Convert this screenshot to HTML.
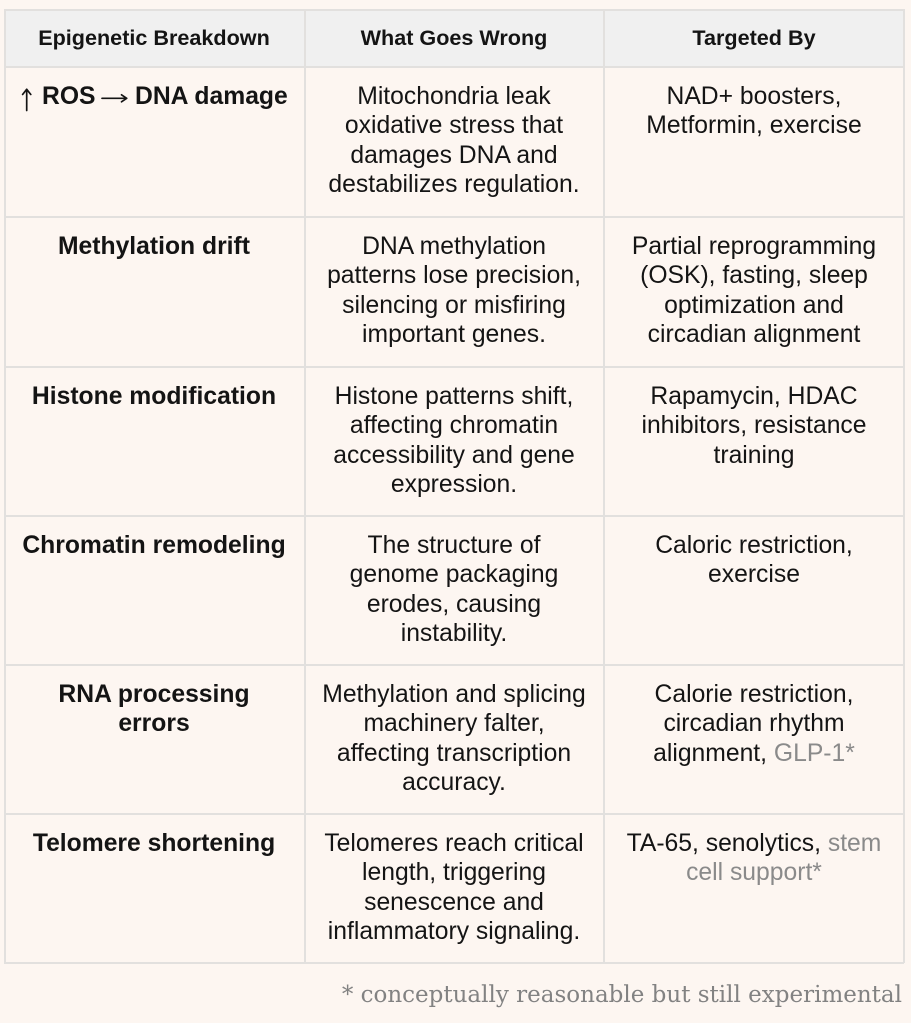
<!DOCTYPE html>
<html><head><meta charset="utf-8"><style>
html,body{margin:0;padding:0;}
body{width:911px;height:1023px;background:#fdf6f1;position:relative;overflow:hidden;font-family:"Liberation Sans",Arial,sans-serif;color:#141414;}
.hl{position:absolute;left:4px;width:900px;height:1.5px;background:#e2e0de;}
.vl{position:absolute;top:9px;height:954px;width:1.5px;background:#e2e0de;}
.hdr{position:absolute;left:4px;top:9px;width:900px;height:57px;background:#f0f0f0;}
.h{position:absolute;top:9px;height:57px;width:300px;line-height:57px;text-align:center;font-weight:bold;font-size:21.6px;white-space:nowrap;}
.c{position:absolute;width:300px;text-align:center;font-size:24.7px;line-height:29.3px;white-space:nowrap;}
.t{position:absolute;font-size:24.7px;line-height:29.3px;white-space:nowrap;font-weight:bold;}
.b{font-weight:bold;}
.g{color:#8a8a8a;}
.foot{position:absolute;right:9px;top:982px;font-family:"DejaVu Serif","Liberation Serif",serif;font-size:23px;line-height:27px;color:#828282;white-space:nowrap;}
</style></head><body>
<div class="hdr"></div>
<div class="hl" style="top:9px"></div>
<div class="hl" style="top:66px"></div>
<div class="hl" style="top:216px"></div>
<div class="hl" style="top:366px"></div>
<div class="hl" style="top:515px"></div>
<div class="hl" style="top:664px"></div>
<div class="hl" style="top:813px"></div>
<div class="hl" style="top:962px"></div>
<div class="vl" style="left:4px"></div>
<div class="vl" style="left:304px"></div>
<div class="vl" style="left:603px"></div>
<div class="vl" style="left:903px"></div>

<div class="h" style="left:4px">Epigenetic Breakdown</div>
<div class="h" style="left:304px">What Goes Wrong</div>
<div class="h" style="left:604px">Targeted By</div>

<svg style="position:absolute;left:0;top:0" width="140" height="120" viewBox="0 0 140 120">
  <g fill="none" stroke="#141414" stroke-width="1.7" stroke-linecap="round" stroke-linejoin="round">
    <path d="M26.7 89.5 V110.5"/>
    <path d="M22.6 94.5 L26.7 89.3 L30.8 94.5"/>
    <path d="M102 98.3 H126.5"/>
    <path d="M121.5 94.8 L126.7 98.3 L121.5 101.8"/>
  </g>
</svg>
<div class="t" style="left:42px;top:82px">ROS</div>
<div class="t" style="left:135px;top:82px">DNA damage</div>
<div class="c" style="left:304px;top:82px">Mitochondria leak<br>oxidative stress that<br>damages DNA and<br>destabilizes regulation.</div>
<div class="c" style="left:604px;top:82px">NAD+ boosters,<br>Metformin, exercise</div>

<div class="c b" style="left:4px;top:232px">Methylation drift</div>
<div class="c" style="left:304px;top:232px">DNA methylation<br>patterns lose precision,<br>silencing or misfiring<br>important genes.</div>
<div class="c" style="left:604px;top:232px">Partial reprogramming<br>(OSK), fasting, sleep<br>optimization and<br>circadian alignment</div>

<div class="c b" style="left:4px;top:382px">Histone modification</div>
<div class="c" style="left:304px;top:382px">Histone patterns shift,<br>affecting chromatin<br>accessibility and gene<br>expression.</div>
<div class="c" style="left:604px;top:382px">Rapamycin, HDAC<br>inhibitors, resistance<br>training</div>

<div class="c b" style="left:4px;top:531px">Chromatin remodeling</div>
<div class="c" style="left:304px;top:531px">The structure of<br>genome packaging<br>erodes, causing<br>instability.</div>
<div class="c" style="left:604px;top:531px">Caloric restriction,<br>exercise</div>

<div class="c b" style="left:4px;top:680px">RNA processing<br>errors</div>
<div class="c" style="left:304px;top:680px">Methylation and splicing<br>machinery falter,<br>affecting transcription<br>accuracy.</div>
<div class="c" style="left:604px;top:680px">Calorie restriction,<br>circadian rhythm<br>alignment, <span class="g">GLP-1*</span></div>

<div class="c b" style="left:4px;top:829px">Telomere shortening</div>
<div class="c" style="left:304px;top:829px">Telomeres reach critical<br>length, triggering<br>senescence and<br>inflammatory signaling.</div>
<div class="c" style="left:604px;top:829px">TA-65, senolytics, <span class="g">stem</span><br><span class="g">cell support*</span></div>

<div class="foot">* conceptually reasonable but still experimental</div>
</body></html>
